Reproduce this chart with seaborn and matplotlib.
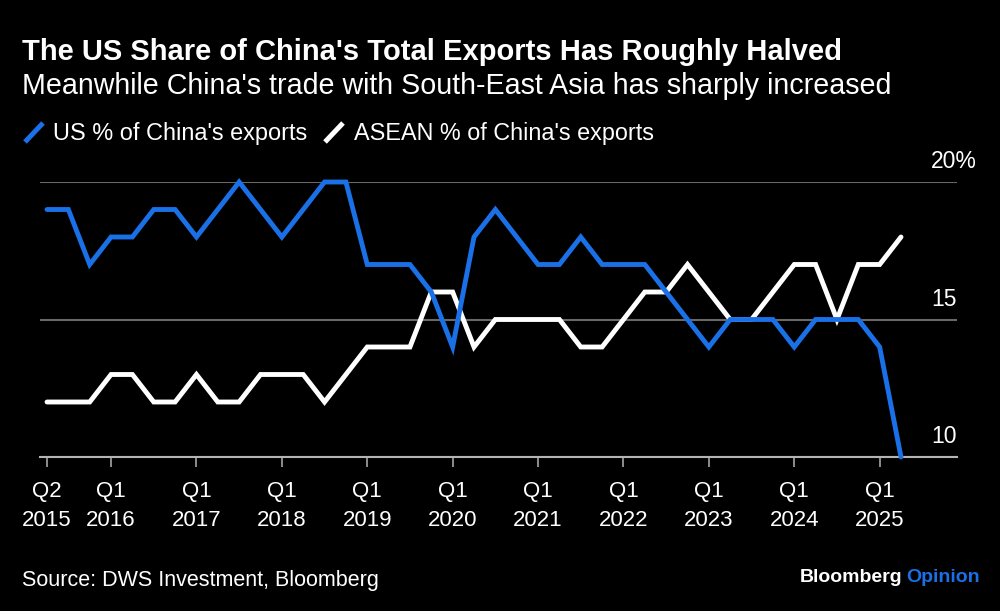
import seaborn as sns
import numpy as np
import pandas as pd
import matplotlib.pyplot as plt
from matplotlib.lines import Line2D

# quarterly values, Q2 2015 to Q2 2025
us_share = [19, 19, 17, 18, 18, 19, 19, 18, 19, 20, 19, 18, 19, 20, 20, 17, 17, 17, 16, 14, 18,
            19, 18, 17, 17, 18, 17, 17, 17, 16, 15, 14, 15, 15, 15, 14, 15, 15, 15, 14, 10]
asean_share = [12, 12, 12, 13, 13, 12, 12, 13, 12, 12, 13, 13, 13, 12, 13, 14, 14, 14, 16, 16, 14,
               15, 15, 15, 15, 14, 14, 15, 16, 16, 17, 16, 15, 15, 16, 17, 17, 15, 17, 17, 18]

tick_pos = [0, 3, 7, 11, 15, 19, 23, 27, 31, 35, 39]
tick_labels = ['Q2\n2015', 'Q1\n2016', 'Q1\n2017', 'Q1\n2018', 'Q1\n2019', 'Q1\n2020',
               'Q1\n2021', 'Q1\n2022', 'Q1\n2023', 'Q1\n2024', 'Q1\n2025']
y_ticks = [10, 15, 20]
y_labels = ['10', '15', '20%']

US_NAME = "US % of China's exports"
ASEAN_NAME = "ASEAN % of China's exports"
BLUE = '#1a70e6'
WHITE = '#ffffff'
BG = '#000000'

sns.set_theme(style='white')
plt.rcParams['font.family'] = ['Liberation Sans', 'DejaVu Sans']
plt.rcParams['figure.facecolor'] = BG
plt.rcParams['axes.facecolor'] = BG

data = pd.DataFrame({'quarter': np.arange(len(us_share)), US_NAME: us_share, ASEAN_NAME: asean_share})
data = data.melt(id_vars='quarter', var_name='series', value_name='share')

fig = plt.figure(figsize=(10, 6.11), dpi=100)
ax = fig.add_axes([0.040, 1 - 457 / 611, 0.917, 275 / 611])

ax.set_yticks(y_ticks)
ax.grid(axis='y', color='#686868', lw=1.5, zorder=0)
ax.set_axisbelow(True)

# white first so the blue line sits on top where they cross
sns.lineplot(data=data, x='quarter', y='share', hue='series', hue_order=[ASEAN_NAME, US_NAME],
             palette={US_NAME: BLUE, ASEAN_NAME: WHITE}, linewidth=3.5, legend=False, ax=ax,
             solid_joinstyle='miter', solid_capstyle='round', clip_on=False, zorder=3)

ax.set_xlim((40 - 47) / 21.35, 40 + (957 - 901) / 21.35)
ax.set_ylim(10, 20)
ax.set_xlabel('')
ax.set_ylabel('')
sns.despine(ax=ax, left=True, top=True, right=True)
ax.spines['bottom'].set_color('#b4b4b4')
ax.spines['bottom'].set_linewidth(1.5)

ax.set_xticks(tick_pos)
ax.set_xticklabels(tick_labels, color='white', fontsize=16, linespacing=1.5)
ax.tick_params(axis='x', bottom=True, length=7, width=1.1, color='#b4b4b4', pad=10)
ax.tick_params(axis='y', left=False, labelleft=False)

for val, lab in zip(y_ticks, y_labels):
    right_px = 20 if lab.endswith('%') else 0
    ax.annotate(lab, xy=(1, val), xycoords=('axes fraction', 'data'), xytext=(right_px * 0.72, 10),
                textcoords='offset points', ha='right', va='baseline', color='white', fontsize=16.5)

fig.text(0.022, 1 - 60 / 611, "The US Share of China's Total Exports Has Roughly Halved",
         color='white', fontsize=21, fontweight='bold', va='baseline')
fig.text(0.022, 1 - 94 / 611, "Meanwhile China's trade with South-East Asia has sharply increased",
         color='white', fontsize=20.6, va='baseline')

# legend with slanted swatches, like the original
for x0, col in [(25, BLUE), (325, WHITE)]:
    fig.add_artist(Line2D([x0 / 1000, (x0 + 18) / 1000], [1 - 142 / 611, 1 - 123 / 611],
                          color=col, lw=3.6, solid_capstyle='butt'))
fig.text(0.053, 1 - 140 / 611, US_NAME, color='white', fontsize=16.9, va='baseline')
fig.text(0.354, 1 - 140 / 611, ASEAN_NAME, color='white', fontsize=16.8, va='baseline')

fig.text(0.022, 1 - 586 / 611, 'Source: DWS Investment, Bloomberg', color='white', fontsize=15.5, va='baseline')
fig.text(0.902, 1 - 582 / 611, 'Bloomberg', color='white', fontsize=14, fontweight='bold', ha='right', va='baseline')
fig.text(0.906, 1 - 582 / 611, 'Opinion', color=BLUE, fontsize=14, fontweight='bold', ha='left', va='baseline')

fig.savefig('out.png', dpi=100, facecolor=BG)
